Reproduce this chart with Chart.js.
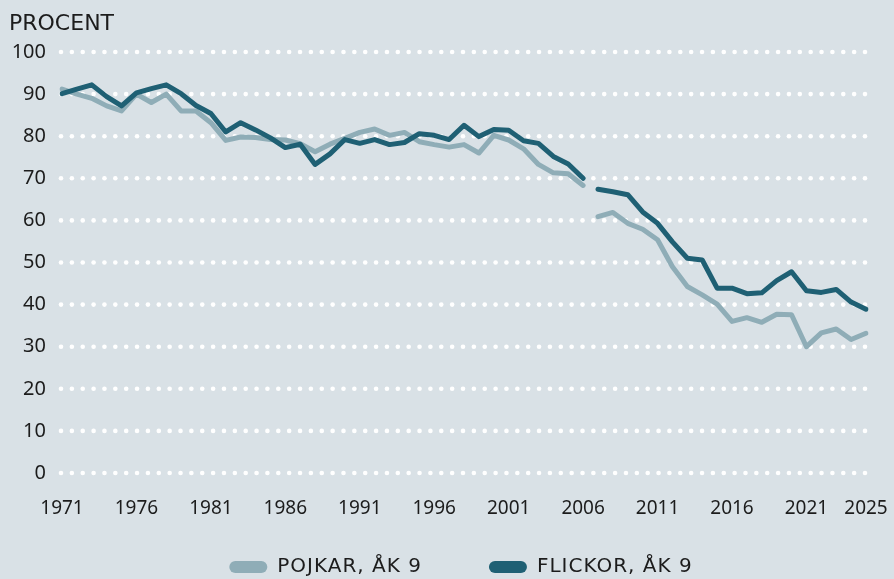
<!DOCTYPE html>
<html>
<head>
<meta charset="utf-8">
<script src="https://cdn.jsdelivr.net/npm/chart.js@4/dist/chart.umd.min.js"></script>
<style>
  html, body { margin: 0; padding: 0; background: #d9e1e6; }
  #wrap { width: 894px; height: 579px; }
</style>
</head>
<body>
<div id="wrap"><canvas id="chart" width="894" height="579"></canvas></div>
<script>
// ── Data ──
const YEARS = [
  1971, 1972, 1973, 1974, 1975, 1976, 1977, 1978, 1979, 1980,
  1981, 1982, 1983, 1984, 1985, 1986, 1987, 1988, 1989, 1990,
  1991, 1992, 1993, 1994, 1995, 1996, 1997, 1998, 1999, 2000,
  2001, 2002, 2003, 2004, 2005, 2006, 2007, 2008, 2009, 2010,
  2011, 2012, 2013, 2014, 2015, 2016, 2017, 2018, 2019, 2020,
  2021, 2022, 2023, 2024, 2025
];

const POJKAR = [
  91.2, 90.0, 89.0, 87.2, 86.0, 90.0, 88.0, 90.0, 86.0, 86.0,
  83.2, 79.0, 79.8, 79.7, 79.2, 79.1, 78.2, 76.3, 78.1, 79.5,
  80.9, 81.7, 80.2, 80.9, 78.7, 78.0, 77.4, 78.0, 76.0, 80.2,
  79.1, 77.0, 73.3, 71.3, 71.1, 68.3, 60.9, 61.9, 59.3, 57.9,
  55.4, 49.0, 44.3, 42.3, 40.1, 36.0, 36.9, 35.8, 37.7, 37.6,
  30.0, 33.3, 34.2, 31.7, 33.2
];

const FLICKOR = [
  90.1, 91.2, 92.2, 89.4, 87.2, 90.3, 91.3, 92.2, 90.1, 87.3,
  85.4, 81.0, 83.2, 81.5, 79.6, 77.3, 78.1, 73.3, 75.8, 79.2,
  78.3, 79.2, 78.0, 78.5, 80.6, 80.2, 79.2, 82.6, 79.9, 81.6,
  81.4, 78.9, 78.3, 75.2, 73.4, 70.0, 67.4, 66.8, 66.1, 62.0,
  59.3, 54.9, 51.0, 50.6, 43.9, 43.9, 42.6, 42.8, 45.7, 47.8,
  43.3, 42.9, 43.6, 40.6, 38.9
];

const SERIES_NAMES = ['POJKAR, ÅK 9', 'FLICKOR, ÅK 9'];
const X_TICKS = [1971, 1976, 1981, 1986, 1991, 1996, 2001, 2006, 2011, 2016, 2021, 2025];
const Y_TICKS = [0, 10, 20, 30, 40, 50, 60, 70, 80, 90, 100];
const BREAK_AFTER = 2006; // metodbyte, linjen bryts

const C_LIGHT = '#8fadb7';
const C_DARK  = '#1f6074';
const C_TEXT  = '#1c1c1c';

const LEGEND_PAD = 67;
const LEGEND_FONT = 20;

// ── Punktat rutnät (vita prickar) ──
const dotGrid = {
  id: 'dotGrid',
  beforeDatasetsDraw(chart) {
    const { ctx, chartArea, scales: { y } } = chart;
    const n = 74;
    const step = (chartArea.right - chartArea.left) / n;
    ctx.save();
    ctx.fillStyle = '#ffffff';
    Y_TICKS.forEach(v => {
      const py = y.getPixelForValue(v);
      for (let i = 0; i <= n; i++) {
        ctx.beginPath();
        ctx.arc(chartArea.left - 1 + i * step, py, 2.3, 0, Math.PI * 2);
        ctx.fill();
      }
    });
    ctx.restore();
  }
};

// ── Rubrik "PROCENT" ──
const unitLabel = {
  id: 'unitLabel',
  afterDraw(chart) {
    const ctx = chart.ctx;
    ctx.save();
    ctx.font = '22px "DejaVu Sans"';
    ctx.fillStyle = C_TEXT;
    ctx.textBaseline = 'alphabetic';
    ctx.fillText('PROCENT', 9, 30);
    ctx.restore();
  }
};

// ── Legend: lite spärrad text, flyttad till nederkanten ──
const legendTweak = {
  id: 'legendTweak',
  afterInit(chart) {
    const lg = chart.legend;
    if (!lg) return;
    ['fit', 'draw'].forEach(m => {
      const orig = lg[m].bind(lg);
      lg[m] = (...a) => {
        const c = chart.ctx;
        const prev = c.letterSpacing;
        c.letterSpacing = '1px';
        try { return orig(...a); } finally { c.letterSpacing = prev || '0px'; }
      };
    });
  },
  afterLayout(chart) {
    const lg = chart.legend;
    if (!lg) return;
    const top = 567 - LEGEND_PAD - LEGEND_FONT / 2;
    const dx = 461 - (lg.left + lg.right) / 2;
    lg.bottom = top + lg.height;
    lg.top = top;
    lg.left += dx;
    lg.right += dx;
  }
};

const breakIdx = YEARS.indexOf(BREAK_AFTER);
const gapSegment = {
  borderColor: c => (c.p0DataIndex === breakIdx ? 'rgba(0,0,0,0)' : undefined)
};

new Chart(document.getElementById('chart'), {
  type: 'line',
  data: {
    labels: YEARS,
    datasets: [
      {
        label: SERIES_NAMES[0],
        data: POJKAR,
        borderColor: C_LIGHT,
        backgroundColor: C_LIGHT,
        borderWidth: 5,
        borderCapStyle: 'round',
        borderJoinStyle: 'round',
        pointRadius: 0,
        tension: 0,
        order: 1,
        segment: gapSegment,
      },
      {
        label: SERIES_NAMES[1],
        data: FLICKOR,
        borderColor: C_DARK,
        backgroundColor: C_DARK,
        borderWidth: 5,
        borderCapStyle: 'round',
        borderJoinStyle: 'round',
        pointRadius: 0,
        tension: 0,
        order: 0,
        segment: gapSegment,
      }
    ]
  },
  options: {
    responsive: false,
    animation: false,
    layout: { padding: { top: 52, right: 28, left: 0, bottom: -36 } },
    plugins: {
      tooltip: { enabled: false },
      legend: {
        position: 'bottom',
        labels: {
          boxWidth: 38,
          boxHeight: 12,
          useBorderRadius: true,
          borderRadius: 6,
          padding: LEGEND_PAD,
          color: C_TEXT,
          font: { family: '"DejaVu Sans"', size: LEGEND_FONT },
          generateLabels: chart => chart.data.datasets.map((ds, i) => ({
            text: ds.label,
            fillStyle: ds.borderColor,
            strokeStyle: ds.borderColor,
            lineWidth: 0,
            borderRadius: 6,
            fontColor: C_TEXT,
            hidden: false,
            datasetIndex: i,
          }))
        }
      }
    },
    scales: {
      x: {
        type: 'category',
        grid: { display: false, drawTicks: false },
        border: { display: false },
        ticks: {
          autoSkip: false,
          maxRotation: 0,
          padding: 24,
          color: C_TEXT,
          font: { family: '"Noto Sans"', size: 19 },
          callback: (v, i) => (X_TICKS.includes(YEARS[i]) ? String(YEARS[i]) : null)
        },
        afterFit: s => { s.height = 45; s.paddingLeft = 0; s.paddingRight = 0; }
      },
      y: {
        min: 0,
        max: 100,
        grid: { display: false, drawTicks: false },
        border: { display: false },
        afterBuildTicks: s => { s.ticks = Y_TICKS.map(v => ({ value: v })); },
        ticks: {
          padding: 16,
          color: C_TEXT,
          font: { family: '"Noto Sans"', size: 20 },
        },
        afterFit: s => { s.width = 62; s.paddingTop = 0; s.paddingBottom = 0; }
      }
    }
  },
  plugins: [dotGrid, unitLabel, legendTweak]
});
</script>
</body>
</html>
